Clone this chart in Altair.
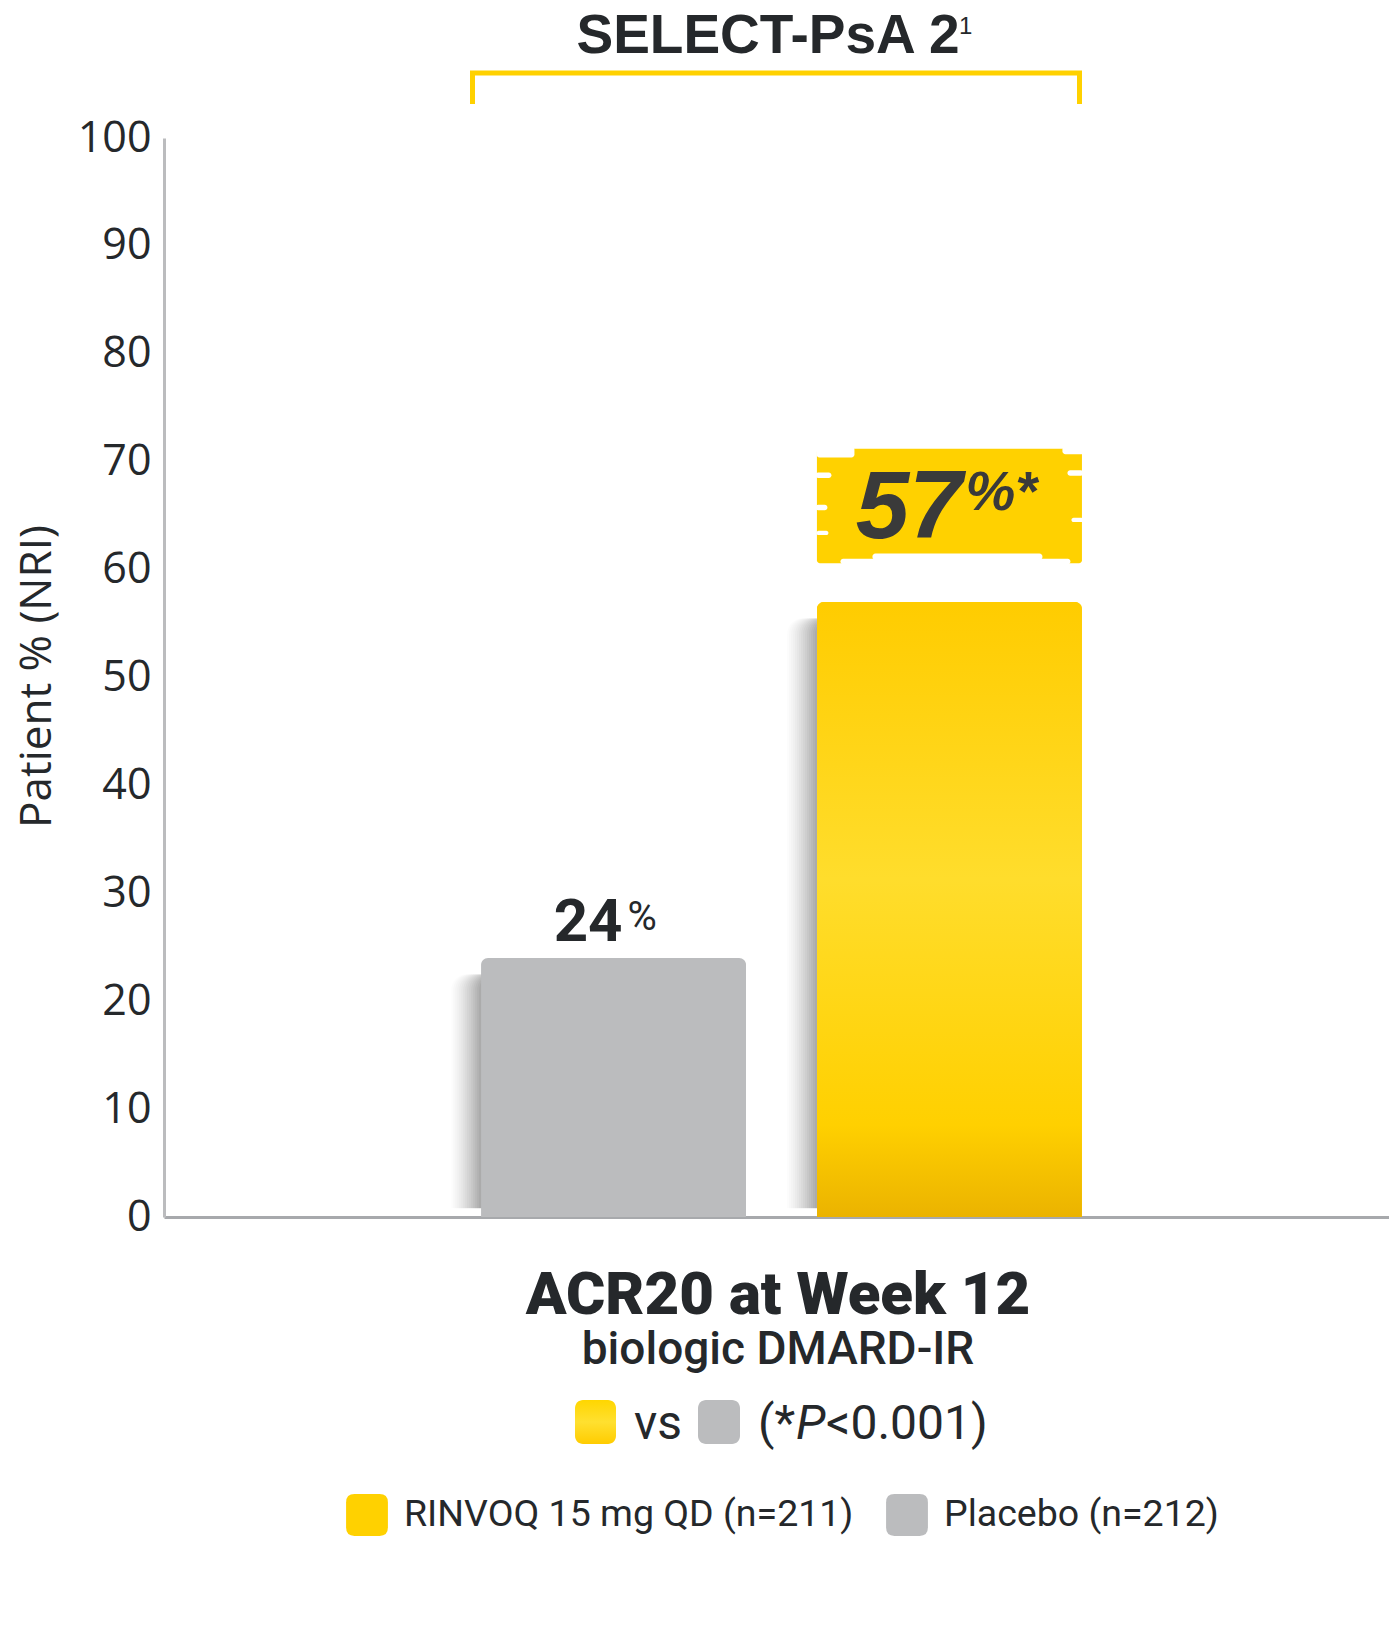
import altair as alt
import pandas as pd

# ---------------- data ----------------
groups = ["Placebo", "RINVOQ 15 mg QD"]
n_patients = [212, 211]
acr20 = [24, 57]
y_ticks = [0, 10, 20, 30, 40, 50, 60, 70, 80, 90, 100]
value_suffix = ["%", "%*"]

DARK = "#25282b"
YELLOW = "#FFD100"
GRAY = "#BBBCBE"

df = pd.DataFrame({"group": groups, "n": n_patients, "value": acr20, "suffix": value_suffix})
df["legend"] = df["group"] + " (n=" + df["n"].astype(str) + ")"
legend_order = [df["legend"][1], df["legend"][0]]

W, H = 1225, 1079

x_enc = alt.X(
    "group:N",
    scale=alt.Scale(domain=groups, paddingInner=0.211, paddingOuter=0.929, align=0.508),
    axis=alt.Axis(title=None, labels=False, ticks=False, domain=True,
                  domainColor="#A7A9AC", domainWidth=3),
)
y_scale = alt.Scale(domain=[0, 100], nice=False)
y_enc = alt.Y(
    "value:Q",
    scale=y_scale,
    axis=alt.Axis(
        values=y_ticks, grid=False, ticks=False, domainColor="#BBBCBE", domainWidth=3,
        labelFont="Open Sans", labelFontSize=43, labelColor=DARK, labelPadding=13,
        title="Patient % (NRI)", titleFont="Open Sans", titleFontSize=44,
        titleFontWeight="normal", titleColor=DARK, titleAngle=270,
        titleX=-127, titleY=538, titleAlign="center", titleBaseline="middle",
    ),
)

base = alt.Chart(df).transform_calculate(
    shadow_top="datum.value - 1.5",
    shadow_bot="0.8",
    brush_lo="datum.value + 3.6",
    brush_hi="datum.value + 14.2",
    num="format(datum.value, 'd')",
)

# soft shadow on the left side of each bar
shadow_layers = []
for off in range(-30, 0, 2):
    op = 0.012 + 0.028 * (30 + off) / 30
    shadow_layers.append(
        base.mark_bar(color="black", opacity=op, xOffset=off,
                      cornerRadiusTopLeft=16, cornerRadiusTopRight=16).encode(
            x=x_enc, y=alt.Y("shadow_top:Q", scale=y_scale), y2="shadow_bot:Q"
        )
    )

bars = base.mark_bar(cornerRadiusTopLeft=7, cornerRadiusTopRight=7).encode(
    x=x_enc,
    y=y_enc,
    color=alt.Color(
        "legend:N",
        scale=alt.Scale(domain=legend_order, range=[YELLOW, GRAY]),
        legend=alt.Legend(
            title=None, orient="none", legendX=182, legendY=1356, direction="horizontal",
            symbolType="M -0.6 -1 L 0.6 -1 Q 1 -1 1 -0.6 L 1 0.6 Q 1 1 0.6 1 L -0.6 1 Q -1 1 -1 0.6 L -1 -0.6 Q -1 -1 -0.6 -1 Z",
            symbolSize=1750, symbolStrokeWidth=0, symbolOpacity=1,
            labelFont="Roboto", labelFontSize=37.5, labelColor=DARK, labelOffset=16,
            columnPadding=32, labelLimit=900, padding=0,
        ),
    ),
)

yellow_grad = alt.Gradient(
    gradient="linear", x1=0, x2=0, y1=0, y2=1,
    stops=[
        alt.GradientStop(offset=0, color="#FFCC00"),
        alt.GradientStop(offset=0.45, color="#FFDD2C"),
        alt.GradientStop(offset=0.85, color="#FFD000"),
        alt.GradientStop(offset=1, color="#EBB300"),
    ],
)
is_rinvoq = alt.datum.group == groups[1]
bar_grad = base.mark_bar(color=yellow_grad, cornerRadiusTopLeft=7, cornerRadiusTopRight=7).encode(
    x=x_enc, y=alt.Y("value:Q", scale=y_scale)
).transform_filter(is_rinvoq)

# brush-stroke highlight behind the 57% label
brush = base.mark_bar(color=YELLOW, cornerRadius=3).encode(
    x=x_enc, y=alt.Y("brush_lo:Q", scale=y_scale), y2="brush_hi:Q"
).transform_filter(is_rinvoq)


def notch(xoff, w, lo, hi):
    return base.transform_calculate(
        nlo=f"datum.value + {lo}", nhi=f"datum.value + {hi}"
    ).transform_filter(is_rinvoq).mark_bar(
        color="white", width=w, xOffset=xoff, cornerRadius=3
    ).encode(x=x_enc, y=alt.Y("nlo:Q", scale=y_scale), y2="nhi:Q")


brush_notches = [
    notch(-114, 38, 13.4, 14.4),
    notch(-126, 16, 11.5, 12.0),
    notch(-128, 12, 8.5, 9.0),
    notch(-127, 12, 6.2, 6.6),
    notch(126, 16, 11.7, 12.2),
    notch(124, 22, 13.7, 14.4),
    notch(128, 12, 7.4, 7.8),
    notch(6, 230, 3.5, 4.0),
    notch(8, 170, 3.9, 4.5),
]

# value labels
lab_pl_num = base.mark_text(align="right", baseline="alphabetic", font="Roboto", fontWeight="bold",
                            fontSize=60, color=DARK, dx=9, dy=-17).encode(
    x=x_enc, y=alt.Y("value:Q", scale=y_scale), text="num:N"
).transform_filter(alt.datum.group == groups[0])
lab_pl_pct = base.mark_text(align="left", baseline="alphabetic", font="Roboto", fontWeight="normal",
                            fontSize=40, color=DARK, dx=14, dy=-28).encode(
    x=x_enc, y=alt.Y("value:Q", scale=y_scale), text="suffix:N"
).transform_filter(alt.datum.group == groups[0])

lab_rv_num = base.mark_text(align="right", baseline="alphabetic",
                            font="Liberation Sans", fontWeight="bold",
                            fontStyle="italic", fontSize=96, color="#3a3a3a", dx=13, dy=-64).encode(
    x=x_enc, y=alt.Y("value:Q", scale=y_scale), text="num:N"
).transform_filter(is_rinvoq)
lab_rv_pct = base.mark_text(align="left", baseline="alphabetic",
                            font="Liberation Sans", fontWeight="bold",
                            fontStyle="italic", fontSize=56, color="#3a3a3a", dx=16, dy=-92).encode(
    x=x_enc, y=alt.Y("value:Q", scale=y_scale), text="suffix:N"
).transform_filter(is_rinvoq)


def label(text, x, y, size, weight="normal", font="Roboto", align="center", style="normal", color=DARK):
    return alt.Chart(pd.DataFrame({"t": [text]})).mark_text(
        align=align, baseline="alphabetic", fontSize=size, fontWeight=weight,
        font=font, fontStyle=style, color=color,
    ).encode(x=alt.value(x), y=alt.value(y), text="t:N")


def box(x1, x2, y1, y2, fill):
    return alt.Chart(pd.DataFrame({"k": [0]})).mark_rect(color=fill, cornerRadius=8).encode(
        x=alt.value(x1), x2=alt.value(x2), y=alt.value(y1), y2=alt.value(y2)
    )


def rule(x1, x2, y1, y2):
    return alt.Chart(pd.DataFrame({"k": [0]})).mark_rule(color=YELLOW, strokeWidth=5).encode(
        x=alt.value(x1), x2=alt.value(x2), y=alt.value(y1), y2=alt.value(y2)
    )


title_main = label("SELECT-PsA 2", 604, -85, 55, weight="bold", font="Liberation Sans")
title_sup = label("1", 795, -104, 24, weight="normal", font="Liberation Sans", align="left")

bracket = [
    rule(306, 918, -65, -65),
    rule(308.5, 308.5, -67, -34),
    rule(915.5, 915.5, -67, -34),
]

sub1 = label("ACR20 at Week 12", 614, 1176, 60, weight=900)
sub2 = label("biologic DMARD-IR", 614, 1226, 46, weight=500)

key_grad = alt.Gradient(
    gradient="linear", x1=0, x2=0, y1=0, y2=1,
    stops=[alt.GradientStop(offset=0, color="#FFD600"),
           alt.GradientStop(offset=0.5, color="#FFE030"),
           alt.GradientStop(offset=1, color="#FFCC00")],
)
key_y = box(411, 452, 1262, 1306, key_grad)
key_vs = label("vs", 470, 1301, 48, align="left")
key_g = box(534, 576, 1262, 1306, GRAY)
key_p1 = label("(*", 594, 1301, 48, align="left")
key_p2 = label("P", 632, 1301, 48, align="left", style="italic")
key_p3 = label("<0.001)", 662, 1301, 48, align="left")

chart = alt.layer(
    *shadow_layers, bars, bar_grad, brush, *brush_notches,
    lab_pl_num, lab_pl_pct, lab_rv_num, lab_rv_pct,
    title_main, title_sup, *bracket, sub1, sub2,
    key_y, key_vs, key_g, key_p1, key_p2, key_p3,
).properties(
    width=W, height=H,
    padding={"left": 156, "top": 130, "right": 0, "bottom": 400},
    autosize=alt.AutoSizeParams(type="none"),
    background="white",
).configure_view(stroke=None)

chart.save("out.html", embed_options={"renderer": "svg", "actions": False})
